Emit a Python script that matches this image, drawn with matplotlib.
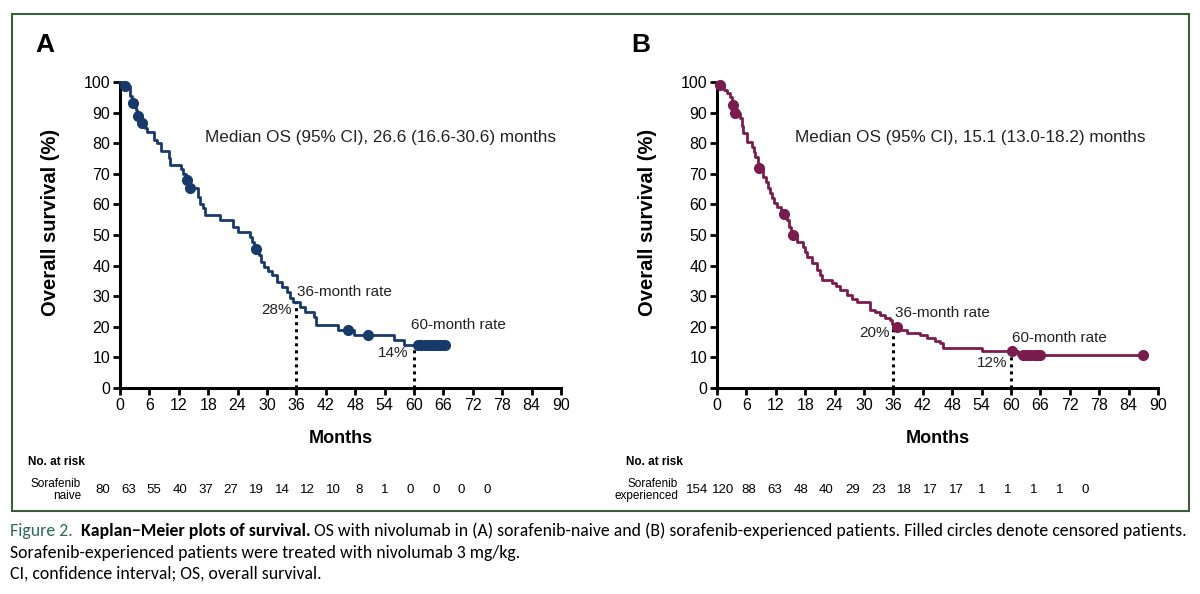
import numpy as np
import matplotlib
matplotlib.use('Agg')
import matplotlib.pyplot as plt
from matplotlib import font_manager
from matplotlib.patches import Rectangle

# Panel A: sorafenib-naive, step times (months) and survival (%) after each step
a_time = [0, 0.8, 2.0, 2.4, 3.2, 3.5, 4.2, 5.2, 5.6, 7.0, 7.5, 8.4, 10.0, 10.3,
          12.4, 12.9, 13.4, 14.1, 16.0, 16.4, 17.0, 17.3, 20.4, 23.0, 24.0, 26.6,
          27.0, 27.4, 28.4, 28.7, 29.4, 30.2, 31.0, 32.0, 33.0, 34.1, 34.6, 35.4,
          36.7, 37.8, 39.5, 40.1, 44.4, 47.8, 56.0, 58.0, 66.4]
a_surv = [100, 98.8, 95.5, 93.0, 91.0, 89.0, 86.6, 85.0, 83.7, 81.2, 80.0, 77.5, 75.2, 73.0,
          71.5, 70.0, 68.0, 65.2, 62.5, 60.0, 58.7, 56.5, 55.0, 52.6, 51.0, 49.5,
          47.8, 45.5, 43.5, 41.2, 39.6, 38.2, 36.8, 34.8, 33.0, 31.3, 29.5, 28.0,
          26.5, 24.8, 23.2, 20.7, 19.0, 17.3, 15.7, 14.0, 14.0]
a_cens = [1.0, 2.6, 3.7, 4.5, 13.6, 14.3, 27.7, 46.5, 50.6,
          60.8, 61.5, 62.2, 62.9, 63.6, 64.3, 65.0, 65.7, 66.4]
a_risk = [80, 63, 55, 40, 37, 27, 19, 14, 12, 10, 8, 1, 0, 0, 0, 0]

# Panel B: sorafenib-experienced
b_time = [0, 0.3, 1.5, 2.0, 2.7, 3.0, 3.5, 4.7, 5.0, 5.3, 6.1, 7.1, 7.5, 7.8, 8.3,
          9.4, 9.9, 10.4, 10.8, 11.2, 11.7, 12.2, 13.0, 14.3, 14.7, 15.1, 16.3,
          17.5, 18.0, 18.4, 19.4, 20.4, 21.0, 21.4, 23.5, 24.3, 25.1, 26.5, 27.5,
          28.6, 31.2, 32.3, 33.3, 34.3, 35.3, 35.8, 36.0, 37.5, 38.8, 41.4, 42.9,
          44.5, 45.5, 46.1, 54.1, 61.4, 86.9]
b_surv = [100, 99.0, 97.5, 96.4, 95.0, 92.5, 90.0, 88.2, 85.5, 83.3, 80.4, 78.8, 77.0, 75.5, 72.0,
          69.0, 67.3, 65.4, 63.7, 62.0, 60.5, 59.2, 57.0, 55.0, 52.5, 50.0, 47.7,
          46.0, 44.5, 42.8, 40.8, 38.6, 37.0, 35.3, 34.3, 33.2, 32.0, 30.4, 29.2,
          28.1, 25.5, 24.7, 23.9, 23.0, 22.2, 21.0, 20.0, 19.0, 18.0, 17.3, 16.3,
          15.5, 14.7, 13.1, 12.1, 10.8, 10.8]
b_cens = [0.6, 3.3, 3.7, 8.6, 13.6, 15.5, 36.7, 60.2,
          62.5, 63.2, 63.9, 64.6, 65.3, 66.0, 86.9]
b_risk = [154, 120, 88, 63, 48, 40, 29, 23, 18, 17, 17, 1, 1, 1, 1, 0]

x_ticks = list(range(0, 91, 6))
y_ticks = list(range(0, 101, 10))

W, H = 1200, 594
fig = plt.figure(figsize=(12, 5.94), dpi=100)
plt.rcParams['font.family'] = ['Liberation Sans', 'DejaVu Sans']


def fx(px):
    return px / W


def fy(py):
    return 1 - py / H


def surv_at(times, surv, t):
    i = np.searchsorted(times, t, side='right') - 1
    return np.asarray(surv)[i]


def km_panel(left, times, surv, cens, color, median_txt, rate36, rate60, lab36, lab60):
    ax = fig.add_axes([fx(left), fy(388), 441 / W, 306 / H])
    ax.step(times, surv, where='post', color=color, lw=2.0, clip_on=False, zorder=3)
    cy = [surv_at(times, surv, c) for c in cens]
    ax.plot(cens, cy, 'o', color=color, ms=7, clip_on=False, zorder=4)
    for t, v in [(36, rate36), (60, rate60)]:
        ax.plot([t, t], [0, v], color='black', lw=2.2, ls=(0, (1, 1.3)), zorder=2)
    ax.set_xlim(0, 90)
    ax.set_ylim(0, 100)
    ax.set_xticks(x_ticks)
    ax.set_yticks(y_ticks)
    ax.tick_params(labelsize=11.5, width=2, length=5, color='black', pad=2)
    for s in ['top', 'right']:
        ax.spines[s].set_visible(False)
    for s in ['left', 'bottom']:
        ax.spines[s].set_linewidth(2.2)
    ax.set_ylabel('Overall survival (%)', fontsize=14.5, fontweight='bold')
    ax.yaxis.set_label_coords(-0.136, 0.54)
    ax.set_xlabel('Months', fontsize=13, fontweight='bold')
    ax.xaxis.set_label_coords(0.5, -0.165)
    ax.xaxis.label.set_va('center')
    ax.text(lab36[0], lab36[1], '36-month rate', fontsize=11, color='#222222', va='center')
    ax.text(lab36[2], lab36[3], f'{rate36}%', fontsize=11, color='#222222', va='center', ha='right')
    ax.text(lab60[0], lab60[1], '60-month rate', fontsize=11, color='#222222', va='center')
    ax.text(lab60[2], lab60[3], f'{rate60}%', fontsize=11, color='#222222', va='center', ha='right')
    ax.text(17.3 if left < 600 else 15.9, 81.7, median_txt, fontsize=12.3, color='#222222', va='center')
    return ax


axA = km_panel(120, a_time, a_surv, a_cens, '#173a6b',
               'Median OS (95% CI), 26.6 (16.6-30.6) months', 28, 14,
               (36.2, 31.5, 35.0, 25.5), (59.4, 20.6, 58.8, 11.4))
axB = km_panel(717, b_time, b_surv, b_cens, '#7a1d4e',
               'Median OS (95% CI), 15.1 (13.0-18.2) months', 20, 12,
               (36.3, 24.6, 35.2, 18.0), (60.3, 16.3, 59.2, 8.2))

fig.text(fx(45), fy(45), 'A', fontsize=19, fontweight='bold', ha='center', va='center')
fig.text(fx(641), fy(45), 'B', fontsize=19, fontweight='bold', ha='center', va='center')

# number at risk tables
fig.text(fx(85), fy(462), 'No. at risk', fontsize=8.5, fontweight='bold', ha='right', va='center')
fig.text(fx(81), fy(490), 'Sorafenib\nnaive', fontsize=8.5, ha='right', va='center',
         multialignment='right', linespacing=1.0)
for i, n in enumerate(a_risk):
    fig.text(fx(103 + i * 25.6), fy(490), str(n), fontsize=9.5, ha='center', va='center')

fig.text(fx(683), fy(462), 'No. at risk', fontsize=8.5, fontweight='bold', ha='right', va='center')
fig.text(fx(678), fy(490), 'Sorafenib\nexperienced', fontsize=8.5, ha='right', va='center',
         multialignment='right', linespacing=1.0)
for i, n in enumerate(b_risk):
    fig.text(fx(697 + i * 25.9), fy(490), str(n), fontsize=9.5, ha='center', va='center')

# green frame
fig.add_artist(Rectangle((fx(12), fy(511)), (1189 - 12) / W, (511 - 14) / H,
                         transform=fig.transFigure, fill=False, ec='#3d5e3d', lw=1.5))

# caption
avail = {f.name for f in font_manager.fontManager.ttflist}
cap_font = next((f for f in ['Carlito', 'Liberation Sans Narrow', 'Roboto', 'Lato']
                 if f in avail), 'DejaVu Sans')

line1 = [('Figure 2.  ', '#2a6b5a', 'normal'),
         ('Kaplan\u2212Meier plots of survival.', 'black', 'bold'),
         (' OS with nivolumab in (A) sorafenib-naive and (B) sorafenib-experienced patients. '
          'Filled circles denote censored patients.', 'black', 'normal')]
line2 = [('Sorafenib-experienced patients were treated with nivolumab 3 mg/kg.', 'black', 'normal')]
line3 = [('CI, confidence interval; OS, overall survival.', 'black', 'normal')]

renderer = fig.canvas.get_renderer()


def draw_line(segments, x0, y, size):
    x = x0
    texts = []
    for s, c, w in segments:
        t = fig.text(fx(x), fy(y), s, fontsize=size, color=c, fontweight=w,
                     family=cap_font, va='center', ha='left')
        x += t.get_window_extent(renderer).width
        texts.append(t)
    return x - x0, texts


width, tmp = draw_line(line1, 10, 531, 10)
for t in tmp:
    t.remove()
cap_size = 10 * 1178 / width
draw_line(line1, 10, 531, cap_size)
draw_line(line2, 10, 553, cap_size)
draw_line(line3, 10, 574, cap_size)

fig.savefig('out.png', dpi=100)
